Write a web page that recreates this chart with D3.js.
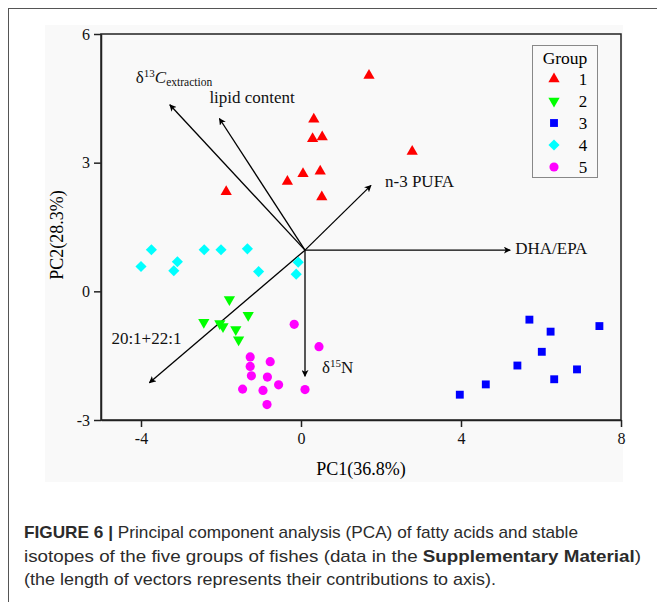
<!DOCTYPE html>
<html>
<head>
<meta charset="utf-8">
<script src="https://cdn.jsdelivr.net/npm/d3@7"></script>
<style>
  body { margin: 0; background: #fff; }
  svg { display: block; }
</style>
</head>
<body>
<div id="chart"></div>
<script>
// scores per group [PC1, PC2]
const group1 = [[1.7, 5.03], [0.32, 4.01], [0.29, 3.56], [0.53, 3.6], [2.78, 3.26],
                [0.05, 2.74], [-0.34, 2.56], [0.48, 2.8], [0.52, 2.2], [-1.87, 2.32]];
const group2 = [[-1.79, -0.19], [-2.43, -0.72], [-2.03, -0.75], [-1.95, -0.82],
                [-1.32, -0.56], [-1.63, -0.89], [-1.56, -1.13]];
const group3 = [[5.71, -0.66], [6.24, -0.94], [7.46, -0.81], [6.02, -1.41], [5.41, -1.73],
                [6.9, -1.82], [6.33, -2.05], [4.62, -2.17], [3.97, -2.41]];
const group4 = [[-3.74, 0.97], [-4.0, 0.58], [-3.09, 0.69], [-3.18, 0.48], [-2.42, 0.97],
                [-2.0, 0.97], [-1.34, 0.99], [-1.06, 0.46], [-0.07, 0.68], [-0.12, 0.4]];
const group5 = [[-0.17, -0.77], [0.45, -1.29], [-1.27, -1.53], [-0.77, -1.64], [-1.27, -1.75],
                [-1.24, -1.97], [-0.84, -2.0], [-0.56, -2.18], [-1.46, -2.28], [-0.95, -2.31],
                [0.1, -2.29], [-0.85, -2.64]];

const groupNames = ["1", "2", "3", "4", "5"];
const groupColors = ["#ff0000", "#00ff00", "#0000ff", "#00ffff", "#ff00ff"];

// loading vectors: all start at the same origin
const vectorOrigin = [0.1, 0.96];
const vectorNames = ["d13C", "lipid content", "n-3 PUFA", "DHA/EPA", "d15N", "20:1+22:1"];
const vectorEnds = [[-3.28, 4.35], [-2.04, 4.03], [1.75, 2.47], [5.23, 0.96], [0.1, -1.98], [-3.79, -2.13]];

const xTicks = [-4, 0, 4, 8];
const yTicks = [-3, 0, 3, 6];

const captionLines = [
    [["FIGURE 6 | ", true], ["Principal component analysis (PCA) of fatty acids and stable", false]],
    [["isotopes of the five groups of fishes (data in the ", false], ["Supplementary Material", true], [")", false]],
    [["(the length of vectors represents their contributions to axis).", false]]
];
const captionWidths = [554, 617, 472];

const W = 657, H = 602;
const margin = { top: 34, right: 36, bottom: 182, left: 101 };
const width = W - margin.left - margin.right,
      height = H - margin.top - margin.bottom;
const serif = "'Liberation Serif', 'Times New Roman', serif";

const svg = d3.select("#chart").append("svg")
    .attr("width", W)
    .attr("height", H);

// figure frame (runs off the page on the right and bottom)
svg.append("rect")
    .attr("x", 8.5).attr("y", 8.5)
    .attr("width", 700).attr("height", 700)
    .attr("fill", "none")
    .attr("stroke", "#555");

// faint grey image background
svg.append("rect")
    .attr("x", 45).attr("y", 25)
    .attr("width", 578).attr("height", 457)
    .attr("fill", "#f9f9f9");

const g = svg.append("g")
    .attr("transform", `translate(${margin.left},${margin.top})`);

const x = d3.scaleLinear().domain([-5, 8]).range([0, width]);
const y = d3.scaleLinear().domain([-3, 6]).range([height, 0]);

// axes (plain hyphen for negatives, like the original)
const fmt = (d) => String(d);
const xAxis = g.append("g")
    .attr("transform", `translate(0,${height})`)
    .call(d3.axisBottom(x).tickValues(xTicks).tickFormat(fmt).tickSize(7).tickSizeOuter(0).tickPadding(6));
const yAxis = g.append("g")
    .call(d3.axisLeft(y).tickValues(yTicks).tickFormat(fmt).tickSize(7).tickSizeOuter(0).tickPadding(4));

[xAxis, yAxis].forEach((a) => {
    a.selectAll("path, line").attr("stroke", "#222").attr("stroke-width", 1.5);
    a.selectAll("text")
        .attr("fill", "#111")
        .style("font-family", serif)
        .style("font-size", "16px");
});

// box top + right
g.append("rect")
    .attr("width", width).attr("height", height)
    .attr("fill", "none")
    .attr("stroke", "#222")
    .attr("stroke-width", 1.5);

g.append("text")
    .attr("x", width / 2).attr("y", height + 55)
    .attr("text-anchor", "middle")
    .style("font-family", serif).style("font-size", "18px")
    .text("PC1(36.8%)");

g.append("text")
    .attr("transform", `translate(${-38},${height / 2 + 8}) rotate(-90)`)
    .attr("text-anchor", "middle")
    .style("font-family", serif).style("font-size", "18px")
    .text("PC2(28.3%)");

// arrows
svg.append("defs").append("marker")
    .attr("id", "arrow")
    .attr("viewBox", "0 0 10 10")
    .attr("refX", 9).attr("refY", 5)
    .attr("markerWidth", 7).attr("markerHeight", 7)
    .attr("markerUnits", "userSpaceOnUse")
    .attr("orient", "auto")
    .append("path")
    .attr("d", "M0,0 L10,5 L0,10 L2.5,5 Z")
    .attr("fill", "#000");

g.selectAll("line.vec")
    .data(vectorEnds)
    .enter()
    .append("line")
    .attr("class", "vec")
    .attr("x1", x(vectorOrigin[0]))
    .attr("y1", y(vectorOrigin[1]))
    .attr("x2", (d) => x(d[0]))
    .attr("y2", (d) => y(d[1]))
    .attr("stroke", "#000")
    .attr("stroke-width", 1.3)
    .attr("marker-end", "url(#arrow)");

// vector labels, offsets from the arrow tip
const labelOffsets = [[-34, -22], [-10, -15], [14, 2], [5, 4], [17, -3], [-38, -39]];
const labels = g.selectAll("text.vlab")
    .data(vectorNames)
    .enter()
    .append("text")
    .attr("class", "vlab")
    .attr("x", (d, i) => x(vectorEnds[i][0]) + labelOffsets[i][0])
    .attr("y", (d, i) => y(vectorEnds[i][1]) + labelOffsets[i][1])
    .style("font-family", serif)
    .style("font-size", "17px")
    .attr("fill", "#111");

labels.each(function (d) {
    const t = d3.select(this);
    if (d === "d13C") {
        t.append("tspan").text("δ");
        t.append("tspan").attr("dy", -6).style("font-size", "11px").text("13");
        t.append("tspan").attr("dy", 6).style("font-style", "italic").text("C");
        t.append("tspan").attr("dy", 3).style("font-size", "11.5px").text("extraction");
    } else if (d === "d15N") {
        t.append("tspan").text("δ");
        t.append("tspan").attr("dy", -6).style("font-size", "11px").text("15");
        t.append("tspan").attr("dy", 6).text("N");
    } else {
        t.text(d);
    }
});

// points
const groups = [group1, group2, group3, group4, group5];
const symbolTypes = [d3.symbolTriangle, d3.symbolTriangle, d3.symbolSquare, d3.symbolSquare, d3.symbolCircle];
const symbolSizes = [55, 55, 62, 62, 66];
const symbolRotate = [0, 180, 0, 45, 0];

groups.forEach((pts, gi) => {
    g.selectAll("path.g" + gi)
        .data(pts)
        .enter()
        .append("path")
        .attr("class", "g" + gi)
        .attr("d", d3.symbol().type(symbolTypes[gi]).size(symbolSizes[gi]))
        .attr("transform", (d) => `translate(${x(d[0])},${y(d[1])}) rotate(${symbolRotate[gi]})`)
        .attr("fill", groupColors[gi]);
});

// legend
const legend = svg.append("g").attr("transform", "translate(532,45)");
legend.append("rect")
    .attr("x", 0.5).attr("y", 0.5)
    .attr("width", 65).attr("height", 132)
    .attr("fill", "none")
    .attr("stroke", "#888");
legend.append("text")
    .attr("x", 33).attr("y", 19)
    .attr("text-anchor", "middle")
    .style("font-family", serif).style("font-size", "17.5px")
    .text("Group");
const rows = legend.selectAll("g.row")
    .data(groupNames)
    .enter()
    .append("g")
    .attr("transform", (d, i) => `translate(0,${34 + i * 22})`);
rows.append("path")
    .attr("d", (d, i) => d3.symbol().type(symbolTypes[i]).size(symbolSizes[i])())
    .attr("transform", (d, i) => `translate(22,0) rotate(${symbolRotate[i]})`)
    .attr("fill", (d, i) => groupColors[i]);
rows.append("text")
    .attr("x", 51).attr("y", 6)
    .attr("text-anchor", "middle")
    .style("font-family", serif).style("font-size", "17px")
    .text((d) => d);

// caption
const cap = svg.append("g")
    .style("font-family", "'Liberation Sans', Arial, sans-serif")
    .style("font-size", "17px")
    .attr("fill", "#2b2b2b");
captionLines.forEach((parts, li) => {
    const t = cap.append("text")
        .attr("x", 24)
        .attr("y", 538 + li * 23.5)
        .attr("textLength", captionWidths[li])
        .attr("lengthAdjust", "spacingAndGlyphs");
    parts.forEach(([s, bold]) => {
        t.append("tspan")
            .style("font-weight", bold ? "bold" : "normal")
            .text(s);
    });
});
</script>
</body>
</html>
